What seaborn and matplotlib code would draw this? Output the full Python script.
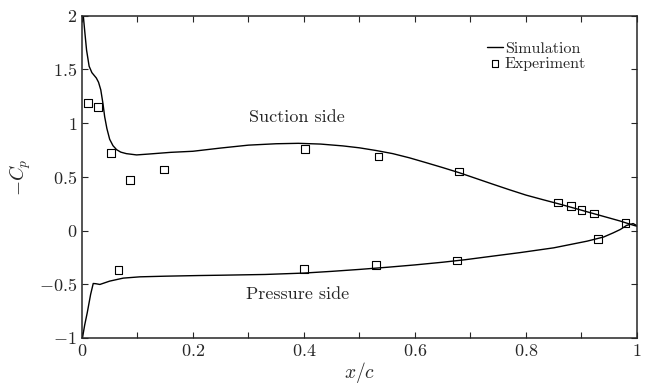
import matplotlib
matplotlib.use("Agg")
import matplotlib.pyplot as plt
from matplotlib.ticker import MultipleLocator, FuncFormatter
import seaborn as sns
import pandas as pd

# Simulated pressure distribution, plotted as -Cp
suction_x = [0.0025, 0.0054, 0.0084, 0.013, 0.018, 0.026, 0.030, 0.034, 0.038, 0.041,
             0.045, 0.050, 0.056, 0.0625, 0.070, 0.080, 0.0985, 0.12, 0.16, 0.20,
             0.25, 0.30, 0.35, 0.39, 0.43, 0.47, 0.50, 0.53, 0.56, 0.59,
             0.62, 0.65, 0.68, 0.71, 0.74, 0.77, 0.80, 0.83, 0.86, 0.89,
             0.92, 0.95, 0.97, 0.993, 1.0]
suction_neg_cp = [2.0, 1.84, 1.68, 1.53, 1.47, 1.42, 1.38, 1.31, 1.18, 1.06,
                  0.95, 0.85, 0.79, 0.753, 0.73, 0.716, 0.704, 0.712, 0.728, 0.738,
                  0.768, 0.795, 0.808, 0.812, 0.805, 0.788, 0.77, 0.745, 0.716, 0.677,
                  0.632, 0.586, 0.538, 0.485, 0.432, 0.38, 0.33, 0.288, 0.247, 0.204,
                  0.16, 0.117, 0.088, 0.05, 0.04]

pressure_x = [0.001, 0.005, 0.0096, 0.0157, 0.0204, 0.025, 0.0324, 0.05, 0.0745, 0.1045,
              0.15, 0.21, 0.25, 0.33, 0.40, 0.45, 0.50, 0.55, 0.60, 0.65,
              0.69, 0.73, 0.79, 0.85, 0.91, 0.94, 0.957, 0.97, 0.981, 0.993, 1.0]
pressure_neg_cp = [-1.0, -0.88, -0.766, -0.595, -0.493, -0.495, -0.502, -0.471, -0.443, -0.431,
                   -0.425, -0.419, -0.416, -0.409, -0.396, -0.38, -0.362, -0.342, -0.32, -0.295,
                   -0.272, -0.245, -0.205, -0.161, -0.099, -0.06, -0.022, 0.01, 0.047, 0.065, 0.045]

# Measured pressure taps
exp_x = [0.011, 0.029, 0.052, 0.087, 0.148, 0.402, 0.534, 0.679, 0.858, 0.881,
         0.900, 0.922, 0.979, 0.066, 0.400, 0.530, 0.676, 0.930]
exp_neg_cp = [1.19, 1.15, 0.72, 0.47, 0.57, 0.76, 0.69, 0.55, 0.26, 0.23,
              0.19, 0.16, 0.07, -0.37, -0.356, -0.319, -0.28, -0.077]

x_ticks = [0, 0.2, 0.4, 0.6, 0.8, 1]
y_ticks = [-1, -0.5, 0, 0.5, 1, 1.5, 2]

sns.set_style("ticks")
plt.rcParams["font.family"] = "serif"
plt.rcParams["font.serif"] = ["cmr10", "DejaVu Serif"]
plt.rcParams["mathtext.fontset"] = "cm"
plt.rcParams["axes.formatter.use_mathtext"] = True

fig = plt.figure(figsize=(6.5, 3.88), dpi=100)
ax = fig.add_axes([0.126, 0.129, 0.854, 0.8305])

suction = pd.DataFrame({"x": suction_x, "y": suction_neg_cp})
pressure = pd.DataFrame({"x": pressure_x, "y": pressure_neg_cp})
exp = pd.DataFrame({"x": exp_x, "y": exp_neg_cp})

sns.lineplot(data=suction, x="x", y="y", sort=False, color="black", lw=1.0,
             ax=ax, label="Simulation")
sns.lineplot(data=pressure, x="x", y="y", sort=False, color="black", lw=1.0,
             ax=ax, label="_nolegend_")
sns.scatterplot(data=exp, x="x", y="y", marker="s", s=30, facecolor="none",
                edgecolor="black", linewidth=0.8, ax=ax, label="Experiment", zorder=3)

ax.set_xlim(0, 1)
ax.set_ylim(-1, 2)
ax.set_xticks(x_ticks)
ax.set_yticks(y_ticks)
ax.xaxis.set_minor_locator(MultipleLocator(0.1))
fmt = FuncFormatter(lambda v, p: f"${v:g}$")
ax.xaxis.set_major_formatter(fmt)
ax.yaxis.set_major_formatter(fmt)
ax.tick_params(which="both", direction="in", top=True, right=True,
               labelsize=13, width=0.8, length=4)
for sp in ax.spines.values():
    sp.set_linewidth(1.1)

ax.set_xlabel(r"$x/c$", fontsize=14, labelpad=1)
ax.set_ylabel(r"$-C_p$", fontsize=14, labelpad=4)

ax.text(0.388, 1.05, "Suction side", fontsize=13, ha="center", va="center")
ax.text(0.388, -0.595, "Pressure side", fontsize=13, ha="center", va="center")

ax.legend(loc="upper left", bbox_to_anchor=(0.729, 0.92), frameon=False,
          fontsize=11.5, handlelength=1.0, handletextpad=0.15, labelspacing=0.05,
          borderaxespad=0.0, borderpad=0.0, markerscale=0.8)

fig.savefig("out.png", dpi=100)
